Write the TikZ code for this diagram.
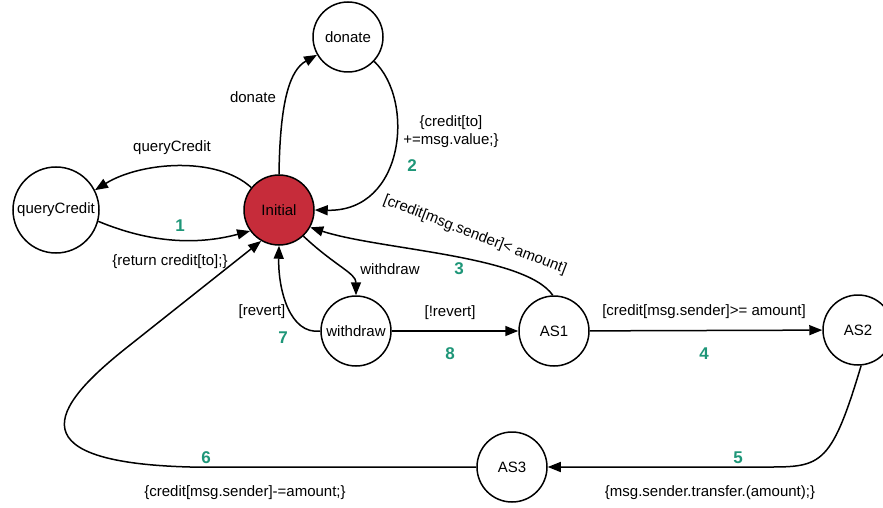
\documentclass[tikz,border=0pt]{standalone}
\usepackage{fontspec}
\setmainfont{Liberation Sans}
\usepackage{tikz}
\usetikzlibrary{arrows.meta}
\definecolor{initred}{RGB}{198,44,58}
\definecolor{stepgreen}{RGB}{30,150,120}

\begin{document}
\begin{tikzpicture}[x=1pt, y=-1pt,
  state/.style={draw, circle, line width=1.5pt, minimum size=70pt, inner sep=0pt, font=\fontsize{15}{18}\selectfont},
  trans/.style={line width=1.5pt, -{Triangle[length=13pt,width=10pt]}},
  lbl/.style={font=\fontsize{15}{18}\selectfont, inner sep=0pt, align=center},
  num/.style={font=\fontsize{17}{20}\selectfont\bfseries, text=stepgreen, inner sep=0pt}]
\useasboundingbox (0,0) rectangle (883,508);

% states
\node[state, fill=initred] (Initial) at (279,210) {Initial};
\node[state] (donate) at (348,37) {donate};
\node[state, minimum size=86pt] (queryCredit) at (56,210) {queryCredit};
\node[state] (withdraw) at (356,331) {withdraw};
\node[state] (AS1) at (554,331) {AS1};
\node[state] (AS2) at (858,330) {AS2};
\node[state] (AS3) at (512,467) {AS3};

% transitions
\draw[trans] (Initial.141) .. controls +(-35,-32) and +(45,-28) .. (queryCredit.27);
\draw[trans] (queryCredit.-15) .. controls +(60,25) and +(-45,12) .. (Initial.216);
\draw[trans] (Initial.90) .. controls (280,100) and (290,70) .. (donate.210);
\draw[trans] (donate.-43) .. controls (415,100) and (405,212) .. (Initial.0);
\draw[trans] (Initial.-47) .. controls +(32,30) and +(0,-22) .. (withdraw.90);
\draw[trans] (withdraw.180) .. controls (290,335) and (278,290) .. (Initial.-90);
\draw[trans] (withdraw) -- (AS1);
\draw[trans] (AS1.92) .. controls (525,255) and (380,250) .. (Initial.-29);
\draw[trans] (AS1) -- (AS2);
\draw[trans] (AS2.-85) .. controls (830,470) and (820,467) .. (760,467) -- (AS3);
\draw[trans] (AS3) -- (190,467) .. controls (5,462) and (60,400) .. (130,345) -- (Initial.240);

% labels
\node[lbl] (lQuery) at (172,148) {queryCredit};
\node[lbl] (lReturn) at (170,262) {\{return credit[to];\}};
\node[lbl] (lDonate) at (253,97) {donate};
\node[lbl] (lCredit) at (451,132) {\{credit[to]\\+=msg.value;\}};
\node[lbl] (lWithdraw) at (390,269) {withdraw};
\node[lbl] (lRevert) at (262,312) {[revert]};
\node[lbl] (lNotRevert) at (450,313) {[!revert]};
\node[lbl, rotate=-21] (lLess) at (475,235) {[credit[msg.sender]< amount]};
\node[lbl] (lMore) at (704,312) {[credit[msg.sender]>= amount]};
\node[lbl] (lTransfer) at (710,493) {\{msg.sender.transfer.(amount);\}};
\node[lbl] (lMinus) at (245,493) {\{credit[msg.sender]-=amount;\}};

% step numbers
\node[num] (n1) at (180,226) {1};
\node[num] (n2) at (412,166) {2};
\node[num] (n3) at (459,269) {3};
\node[num] (n4) at (704,354) {4};
\node[num] (n5) at (738,458) {5};
\node[num] (n6) at (206,458) {6};
\node[num] (n7) at (283,338) {7};
\node[num] (n8) at (450,354) {8};
\end{tikzpicture}
\end{document}
